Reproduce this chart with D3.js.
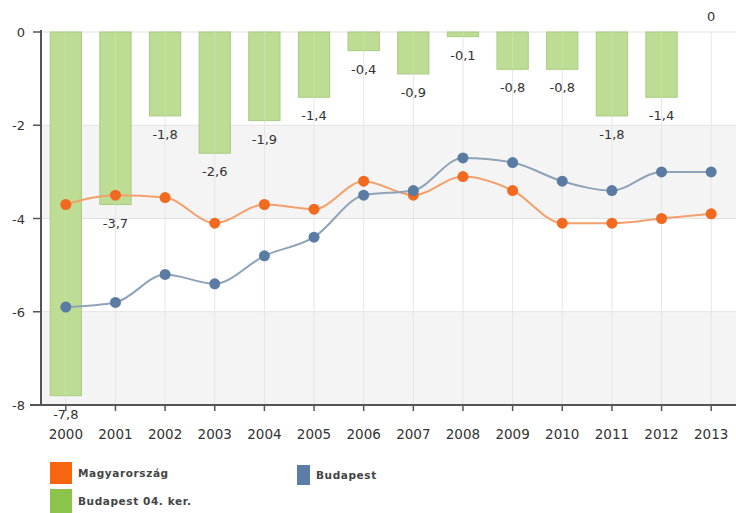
<!DOCTYPE html>
<html><head><meta charset="utf-8">
<script src="https://cdn.jsdelivr.net/npm/d3@7"></script>
<style>body{margin:0;background:#fff}svg{display:block}</style>
</head><body>
<svg id="c" width="736" height="513"></svg>
<script>
const years = ["2000","2001","2002","2003","2004","2005","2006","2007","2008","2009","2010","2011","2012","2013"];
const kerulet = [-7.8,-3.7,-1.8,-2.6,-1.9,-1.4,-0.4,-0.9,-0.1,-0.8,-0.8,-1.8,-1.4,0];
const magyarorszag = [-3.7,-3.5,-3.55,-4.1,-3.7,-3.8,-3.2,-3.5,-3.1,-3.4,-4.1,-4.1,-4.0,-3.9];
const budapest = [-5.9,-5.8,-5.2,-5.4,-4.8,-4.4,-3.5,-3.4,-2.7,-2.8,-3.2,-3.4,-3.0,-3.0];
const yTicks = [0,-2,-4,-6,-8];
const legendItems = ["Magyarország","Budapest","Budapest 04. ker."];

const svg = d3.select("#c");
const x = d3.scaleBand().domain(years).range([41,736]).paddingInner(0.37).paddingOuter(0.185);
const y = d3.scaleLinear().domain([-8,0]).range([405,32]);
const cx = d => x(d) + x.bandwidth()/2;
const font = "DejaVu Sans, Verdana, sans-serif";

// bands
[[-2,-4],[-6,-8]].forEach(b=>{
  svg.append("rect").attr("x",41).attr("width",736-41)
    .attr("y",y(b[0])).attr("height",y(b[1])-y(b[0])).attr("fill","#f4f4f4");
});
// horizontal grid
svg.append("g").selectAll("line").data(yTicks).join("line")
  .attr("x1",41).attr("x2",736).attr("y1",d=>y(d)).attr("y2",d=>y(d))
  .attr("stroke","#e2e2e2").attr("stroke-width",1);
// vertical grid
svg.append("g").selectAll("line").data(years).join("line")
  .attr("x1",d=>cx(d)).attr("x2",d=>cx(d)).attr("y1",32).attr("y2",405)
  .attr("stroke","#e6e6e6").attr("stroke-width",1);

// bars
svg.append("g").selectAll("rect").data(years).join("rect")
  .attr("x",d=>x(d)).attr("width",x.bandwidth())
  .attr("y",y(0)).attr("height",(d,i)=>y(kerulet[i])-y(0))
  .attr("fill","#bddc94").attr("stroke","#a8cc80").attr("stroke-width",1);
svg.append("g").selectAll("line").data(years).join("line")
  .attr("x1",d=>cx(d)).attr("x2",d=>cx(d)).attr("y1",y(0)).attr("y2",(d,i)=>y(kerulet[i]))
  .attr("stroke","#c9e3a6").attr("stroke-width",1);

// bar labels
svg.append("g").selectAll("text").data(years).join("text")
  .attr("x",d=>cx(d)).attr("y",(d,i)=>kerulet[i]===0 ? y(0)-11 : y(kerulet[i])+23)
  .attr("text-anchor","middle").attr("font-family",font).attr("font-size",13)
  .attr("fill","#333").text((d,i)=>String(kerulet[i]).replace(".",","));

// lines
function drawSeries(vals, lineColor, dotColor){
  const line = d3.line().x((d,i)=>cx(years[i])).y(d=>y(d)).curve(d3.curveMonotoneX);
  svg.append("path").datum(vals).attr("d",line).attr("fill","none")
    .attr("stroke",lineColor).attr("stroke-width",2);
  svg.append("g").selectAll("circle").data(vals).join("circle")
    .attr("cx",(d,i)=>cx(years[i])).attr("cy",d=>y(d)).attr("r",5.5).attr("fill",dotColor);
}
drawSeries(magyarorszag,"#f5a06c","#f26a1f");
drawSeries(budapest,"#8ea2b8","#5a7ca3");

// axes
svg.append("line").attr("x1",41).attr("x2",41).attr("y1",30).attr("y2",406).attr("stroke","#555").attr("stroke-width",2);
svg.append("line").attr("x1",30).attr("x2",736).attr("y1",405).attr("y2",405).attr("stroke","#555").attr("stroke-width",2);
svg.append("g").selectAll("line").data(yTicks).join("line")
  .attr("x1",33).attr("x2",41).attr("y1",d=>y(d)).attr("y2",d=>y(d)).attr("stroke","#555").attr("stroke-width",1.5);
svg.append("g").selectAll("text").data(yTicks).join("text")
  .attr("x",25).attr("y",d=>y(d)+5).attr("text-anchor","end")
  .attr("font-family",font).attr("font-size",13).attr("fill","#333").text(d=>d);
svg.append("g").selectAll("line").data(years).join("line")
  .attr("x1",d=>cx(d)).attr("x2",d=>cx(d)).attr("y1",405).attr("y2",411).attr("stroke","#555").attr("stroke-width",1.5);
svg.append("g").selectAll("text").data(years).join("text")
  .attr("x",d=>cx(d)).attr("y",439).attr("text-anchor","middle")
  .attr("font-family",font).attr("font-size",13.5).attr("fill","#333").text(d=>d);

// legend
const legend = [
  {t:legendItems[0], c:"#f7650f", x:50, y:462, w:22, h:22},
  {t:legendItems[1], c:"#5b7ea8", x:297, y:465, w:13, h:20},
  {t:legendItems[2], c:"#8cc34a", x:50, y:489, w:22, h:24}
];
legend.forEach(l=>{
  svg.append("rect").attr("x",l.x).attr("y",l.y).attr("width",l.w).attr("height",l.h).attr("fill",l.c);
  svg.append("text").attr("x",l.x+l.w+6).attr("y",l.y+l.h/2+4)
    .attr("font-family",font).attr("font-size",10.5).attr("font-weight","bold")
    .attr("letter-spacing",0.6).attr("fill","#444").text(l.t);
});
</script>
</body></html>
